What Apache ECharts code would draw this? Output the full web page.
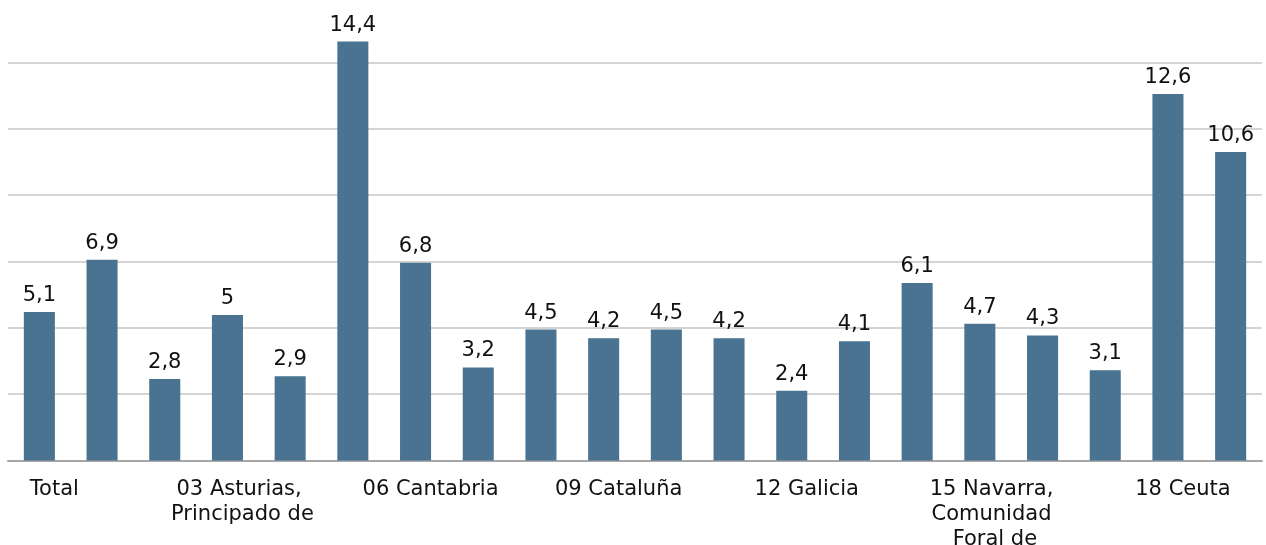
<!DOCTYPE html>
<html>
<head>
<meta charset="utf-8">
<script src="https://cdn.jsdelivr.net/npm/echarts@6/dist/echarts.min.js"></script>
<style>
html,body{margin:0;padding:0;background:#fff;}
#chart{width:1266px;height:545px;}
</style>
</head>
<body>
<div id="chart"></div>
<script>
const categories = [
  "Total",
  "01 Andalucía",
  "02 Aragón",
  "03 Asturias, Principado de",
  "04 Balears, Illes",
  "05 Canarias",
  "06 Cantabria",
  "07 Castilla y León",
  "08 Castilla - La Mancha",
  "09 Cataluña",
  "10 Comunitat Valenciana",
  "11 Extremadura",
  "12 Galicia",
  "13 Madrid, Comunidad de",
  "14 Murcia, Región de",
  "15 Navarra, Comunidad Foral de",
  "16 País Vasco",
  "17 Rioja, La",
  "18 Ceuta",
  "19 Melilla"
];
const values = [5.1, 6.9, 2.8, 5, 2.9, 14.4, 6.8, 3.2, 4.5, 4.2, 4.5, 4.2, 2.4, 4.1, 6.1, 4.7, 4.3, 3.1, 12.6, 10.6];

const FONT = "DejaVu Sans, Verdana, sans-serif";
const chart = echarts.init(document.getElementById('chart'), null, {renderer: 'canvas'});
chart.setOption({
  animation: false,
  backgroundColor: '#ffffff',
  grid: {left: 8, right: 4, top: 62.5, bottom: 84.5, containLabel: false, outerBoundsMode: 'none'},
  xAxis: {
    type: 'category',
    data: categories,
    axisLine: {show: true, lineStyle: {color: '#a6a6a6', width: 2}},
    axisTick: {show: false},
    axisLabel: {
      interval: 2,
      hideOverlap: false,
      showMinLabel: true,
      color: '#111111',
      fontFamily: FONT,
      fontSize: 21,
      lineHeight: 25,
      margin: 17,
      width: 148,
      overflow: 'break',
      padding: [0, 0, 0, 30]
    }
  },
  yAxis: {
    type: 'value',
    min: 0,
    max: 13.68,
    interval: 2.28,
    axisLabel: {show: false},
    axisLine: {show: false},
    axisTick: {show: false},
    splitLine: {show: true, lineStyle: {color: '#d4d4d4', width: 2}}
  },
  series: [{
    type: 'bar',
    data: values,
    barWidth: '49.5%',
    clip: false,
    itemStyle: {color: '#497391'},
    label: {
      show: true,
      position: 'top',
      distance: 6,
      color: '#111111',
      fontFamily: FONT,
      fontSize: 21,
      formatter: p => String(p.value).replace('.', ',')
    }
  }]
});
</script>
</body>
</html>
